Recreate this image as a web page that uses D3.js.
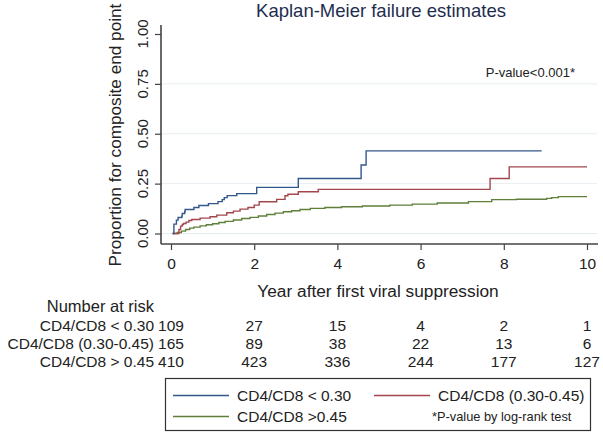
<!DOCTYPE html>
<html><head><meta charset="utf-8">
<script src="https://cdn.jsdelivr.net/npm/d3@7/dist/d3.min.js"></script>
<style>body{margin:0;background:#fff}svg{display:block;font-family:Arial,"Liberation Sans",sans-serif}</style>
</head><body><svg id="c" width="603" height="434"></svg>
<script>
const groups = ["CD4/CD8 < 0.30", "CD4/CD8 (0.30-0.45)", "CD4/CD8 >0.45"];
const riskLabels = ["CD4/CD8 < 0.30", "CD4/CD8 (0.30-0.45)", "CD4/CD8 > 0.45"];
const xTicks = [0, 2, 4, 6, 8, 10];
const yTicks = [0, 0.25, 0.5, 0.75, 1.0];
const yTickLabels = ["0.00", "0.25", "0.50", "0.75", "1.00"];
const seriesLow = [[0.04,0],[0.07,0.047],[0.13,0.067],[0.17,0.08],[0.26,0.087],[0.27,0.10],[0.33,0.11],[0.34,0.12],[0.55,0.13],[0.67,0.14],[0.9,0.15],[1.13,0.16],[1.23,0.17],[1.28,0.18],[1.35,0.19],[1.58,0.20],[2.06,0.231],[3.06,0.276],[4.57,0.343],[4.69,0.414],[8.91,0.414]];
const seriesMid = [[0.04,0],[0.19,0.02],[0.23,0.037],[0.27,0.045],[0.3,0.05],[0.36,0.057],[0.43,0.065],[0.5,0.07],[0.7,0.077],[0.94,0.084],[1.1,0.092],[1.34,0.104],[1.5,0.112],[1.66,0.122],[1.85,0.13],[2.0,0.142],[2.12,0.159],[2.54,0.171],[2.74,0.189],[2.81,0.197],[3.06,0.209],[3.54,0.221],[7.67,0.276],[8.13,0.334],[10.0,0.334]];
const seriesHigh = [[0.04,0],[0.15,0.005],[0.25,0.012],[0.35,0.02],[0.45,0.027],[0.55,0.032],[0.7,0.038],[0.85,0.044],[1.0,0.049],[1.15,0.055],[1.3,0.061],[1.5,0.068],[1.7,0.075],[1.9,0.081],[2.1,0.088],[2.3,0.095],[2.5,0.102],[2.7,0.109],[2.9,0.114],[3.1,0.12],[3.35,0.126],[3.7,0.13],[4.1,0.134],[4.6,0.138],[5.26,0.142],[5.8,0.147],[6.4,0.153],[7.15,0.16],[7.71,0.17],[8.3,0.172],[9.03,0.176],[9.15,0.18],[9.31,0.185],[10.0,0.185]];
const riskLow = [109, 27, 15, 4, 2, 1];
const riskMid = [165, 89, 38, 22, 13, 6];
const riskHigh = [410, 423, 336, 244, 177, 127];
const colors = ["#34578a", "#a4464d", "#5f7f3a"];

const svg = d3.select("#c");
const x = d3.scaleLinear().domain([0, 10]).range([171, 587]);
const y = d3.scaleLinear().domain([0, 1]).range([233.5, 34]);
const axisColor = "#444";

// gridlines
svg.append("g").selectAll("line").data(yTicks.slice(0, 4)).join("line")
  .attr("x1", 161).attr("x2", 597).attr("y1", d => y(d)).attr("y2", d => y(d))
  .attr("stroke", "#e6edf1").attr("stroke-width", 1);

// y axis
const yAxis = d3.axisLeft(y).tickValues(yTicks).tickSize(6).tickFormat("");
const gy = svg.append("g").attr("transform", "translate(161,0)").call(yAxis);
gy.select(".domain").attr("d", "M0,25V244").attr("stroke", axisColor).attr("stroke-width", 1.6);
gy.selectAll(".tick line").attr("stroke", axisColor).attr("stroke-width", 1.2);
svg.append("g").selectAll("text").data(yTicks).join("text")
  .attr("transform", (d) => `translate(148,${y(d)}) rotate(-90)`)
  .attr("text-anchor", "middle").attr("font-size", 15).attr("fill", "#222")
  .text((d, i) => yTickLabels[i]);

// x axis
const xAxis = d3.axisBottom(x).tickValues(xTicks).tickSize(6).tickFormat(d3.format("d"));
const gx = svg.append("g").attr("transform", "translate(0,244)").call(xAxis);
gx.select(".domain").attr("d", "M161,0H598").attr("stroke", axisColor).attr("stroke-width", 1.6);
gx.selectAll(".tick line").attr("stroke", axisColor).attr("stroke-width", 1.2);
gx.selectAll(".tick text").attr("font-size", 15.5).attr("fill", "#222").attr("dy", "1.05em")
  .attr("font-family", "Arial,'Liberation Sans',sans-serif");

// curves
const line = d3.line().x(d => x(d[0])).y(d => y(d[1])).curve(d3.curveStepAfter);
[seriesHigh, seriesMid, seriesLow].forEach((s, i) => {
  svg.append("path").datum(s).attr("d", line).attr("fill", "none")
    .attr("stroke", colors[2 - i]).attr("stroke-width", 1.4);
});

// titles
svg.append("text").attr("x", 381).attr("y", 17).attr("text-anchor", "middle")
  .attr("font-size", 18.5).attr("fill", "#1e2d4f").text("Kaplan-Meier failure estimates");
svg.append("text").attr("transform", "translate(121,135) rotate(-90)").attr("text-anchor", "middle")
  .attr("font-size", 17.2).attr("fill", "#222").text("Proportion for composite end point");
svg.append("text").attr("x", 378).attr("y", 297).attr("text-anchor", "middle")
  .attr("font-size", 17.3).attr("fill", "#222").text("Year after first viral suppression");
svg.append("text").attr("x", 575).attr("y", 77).attr("text-anchor", "end")
  .attr("font-size", 13).attr("fill", "#222").text("P-value<0.001*");

// risk table
svg.append("text").attr("x", 154).attr("y", 312).attr("text-anchor", "end")
  .attr("font-size", 16.5).attr("fill", "#222").text("Number at risk");
[riskLow, riskMid, riskHigh].forEach((r, i) => {
  const yy = 331 + i * 18;
  svg.append("text").attr("x", 154).attr("y", yy).attr("text-anchor", "end")
    .attr("font-size", 15.5).attr("fill", "#222").text(riskLabels[i]);
  svg.append("g").selectAll("text").data(r).join("text")
    .attr("x", (d, j) => x(xTicks[j])).attr("y", yy).attr("text-anchor", "middle")
    .attr("font-size", 15.5).attr("fill", "#222").text(d => d);
});

// legend
svg.append("rect").attr("x", 165.5).attr("y", 378.5).attr("width", 425).attr("height", 52)
  .attr("fill", "#fff").attr("stroke", "#333").attr("stroke-width", 1.2);
const leg = [
  {lx: 173, ly: 395.5, tx: 237, ty: 401, c: colors[0], t: groups[0]},
  {lx: 374, ly: 395.5, tx: 438, ty: 401, c: colors[1], t: groups[1]},
  {lx: 173, ly: 416.5, tx: 237, ty: 422, c: colors[2], t: groups[2]}
];
leg.forEach(l => {
  svg.append("line").attr("x1", l.lx).attr("x2", l.lx + 56).attr("y1", l.ly).attr("y2", l.ly)
    .attr("stroke", l.c).attr("stroke-width", 1.4);
  svg.append("text").attr("x", l.tx).attr("y", l.ty).attr("font-size", 15.5).attr("fill", "#222").text(l.t);
});
svg.append("text").attr("x", 432).attr("y", 421).attr("font-size", 12.8).attr("fill", "#222")
  .text("*P-value by log-rank test");
</script></body></html>
